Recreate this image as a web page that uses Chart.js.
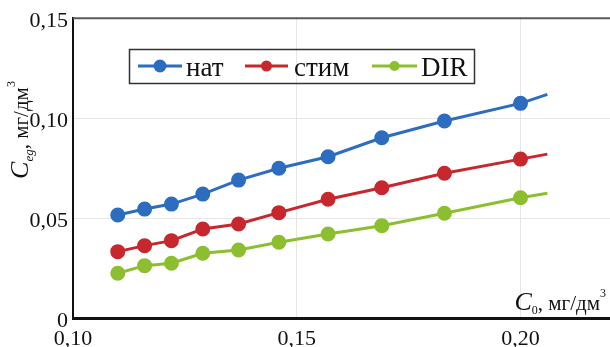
<!DOCTYPE html>
<html>
<head>
<meta charset="utf-8">
<script src="https://cdn.jsdelivr.net/npm/chart.js@4"></script>
<style>
	html, body { margin: 0; padding: 0; background: #fff; }
	#wrap { width: 610px; height: 347px; position: relative; }
</style>
</head>
<body>
<div id="wrap"><canvas id="chart"></canvas></div>
<script>
// 데이터
var c0 = [0.110, 0.116, 0.122, 0.129, 0.137, 0.146, 0.157, 0.169, 0.183, 0.200, 0.206];
var nat = [0.0515, 0.0545, 0.0570, 0.0620, 0.0690, 0.0749, 0.0807, 0.0902, 0.0986, 0.1074, 0.1119];
var stim = [0.0332, 0.0362, 0.0387, 0.0445, 0.0470, 0.0527, 0.0594, 0.0652, 0.0724, 0.0795, 0.0820];
var dir = [0.0224, 0.0262, 0.0274, 0.0324, 0.0340, 0.0379, 0.0420, 0.0462, 0.0524, 0.0602, 0.0624];
var seriesNames = ['нат', 'стим', 'DIR'];

var xTickValues = [0.10, 0.15, 0.20];
var xTickLabels = ['0,10', '0,15', '0,20'];
var yTickValues = [0, 0.05, 0.10, 0.15];
var yTickLabels = ['0', '0,05', '0,10', '0,15'];

var serif = '"Liberation Serif", "DejaVu Serif", serif';
var lastIdx = c0.length - 1;

function toPoints(arr) {
	return arr.map((v, i) => ({ x: c0[i], y: v }));
}

function makeSet(label, arr, color) {
	return {
		label: label,
		data: toPoints(arr),
		borderColor: color,
		backgroundColor: color,
		borderWidth: 3,
		pointBackgroundColor: color,
		pointBorderColor: color,
		// 마지막 점은 선만 이어지고 마커는 없음
		pointRadius: ctx => ctx.dataIndex === lastIdx ? 0 : 6,
		tension: 0,
		fill: false
	};
}

// 범례, 축 제목, 위쪽 테두리
var decorPlugin = {
	id: 'decor',
	afterDraw(chart) {
		var ctx = chart.ctx;
		var area = chart.chartArea;
		ctx.save();

		// 위쪽 테두리
		ctx.strokeStyle = '#5a5a5a';
		ctx.lineWidth = 2;
		ctx.beginPath();
		ctx.moveTo(area.left, area.top);
		ctx.lineTo(area.right, area.top);
		ctx.stroke();

		// 범례 상자
		ctx.strokeStyle = '#333';
		ctx.lineWidth = 1.5;
		ctx.strokeRect(129.5, 49.5, 345, 34);
		var items = [
			{ x0: 138, x1: 182, r: 6.5, tx: 186 },
			{ x0: 245, x1: 288, r: 5.5, tx: 294 },
			{ x0: 372, x1: 417, r: 5, tx: 421 }
		];
		ctx.font = '27px ' + serif;
		ctx.textBaseline = 'alphabetic';
		chart.data.datasets.forEach((ds, i) => {
			var it = items[i];
			var cy = 66;
			ctx.strokeStyle = ds.borderColor;
			ctx.lineWidth = 3;
			ctx.beginPath();
			ctx.moveTo(it.x0, cy);
			ctx.lineTo(it.x1, cy);
			ctx.stroke();
			ctx.fillStyle = ds.borderColor;
			ctx.beginPath();
			ctx.arc((it.x0 + it.x1) / 2, cy, it.r, 0, Math.PI * 2);
			ctx.fill();
			ctx.fillStyle = '#111';
			ctx.fillText(ds.label, it.tx, 76);
		});

		// 축 제목 그리기 (첨자 포함)
		function drawTitle(parts) {
			var x = 0;
			parts.forEach(p => {
				ctx.font = p.font;
				ctx.fillText(p.text, x, p.dy || 0);
				x += ctx.measureText(p.text).width;
			});
			return x;
		}
		function measure(parts) {
			var w = 0;
			parts.forEach(p => {
				ctx.font = p.font;
				w += ctx.measureText(p.text).width;
			});
			return w;
		}
		ctx.fillStyle = '#111';

		// y축 제목
		var yParts = [
			{ text: 'C', font: 'italic 26px ' + serif },
			{ text: 'eg', font: 'italic 13px ' + serif, dy: 5 },
			{ text: ', мг/дм', font: '21px ' + serif },
			{ text: '3', font: '12px ' + serif, dy: -13 }
		];
		var yw = measure(yParts);
		ctx.save();
		ctx.translate(28, 130 + yw / 2);
		ctx.rotate(-Math.PI / 2);
		drawTitle(yParts);
		ctx.restore();

		// x축 제목
		var xParts = [
			{ text: 'C', font: 'italic 26px ' + serif },
			{ text: '0', font: '12px ' + serif, dy: 4 },
			{ text: ', мг/дм', font: '21px ' + serif },
			{ text: '3', font: '12px ' + serif, dy: -13 }
		];
		var xw = measure(xParts);
		ctx.save();
		ctx.translate(606 - xw, 310);
		drawTitle(xParts);
		ctx.restore();

		ctx.restore();
	}
};

var myChart = new Chart(document.getElementById('chart'), {
	type: 'line',
	data: {
		datasets: [
			makeSet(seriesNames[0], nat, '#2c6dc0'),
			makeSet(seriesNames[1], stim, '#c7282d'),
			makeSet(seriesNames[2], dir, '#8cbf2f')
		]
	},
	options: {
		responsive: true,
		maintainAspectRatio: false,
		animation: false,
		layout: {
			autoPadding: false, // 점 크기만큼 여백이 생기는 것 방지
			padding: { top: 18, right: 0, bottom: 0, left: 0 }
		},
		plugins: {
			legend: { display: false },
			tooltip: { enabled: false }
		},
		scales: {
			x: {
				type: 'linear',
				min: 0.10,
				max: 0.22,
				afterBuildTicks: scale => { scale.ticks = xTickValues.map(v => ({ value: v })); },
				afterFit: scale => { scale.height = 29; },
				grid: { color: '#e6e6e6', lineWidth: 1, drawTicks: false },
				border: { color: '#111', width: 3 },
				ticks: {
					padding: 8,
					color: '#111',
					font: { family: serif, size: 22 },
					maxRotation: 0,
					callback: (v, i) => xTickLabels[i]
				}
			},
			y: {
				type: 'linear',
				min: 0,
				max: 0.15,
				afterBuildTicks: scale => { scale.ticks = yTickValues.map(v => ({ value: v })); },
				afterFit: scale => { scale.width = 73; },
				grid: { color: '#e6e6e6', lineWidth: 1, drawTicks: false },
				border: { color: '#111', width: 2 },
				ticks: {
					padding: 5,
					labelOffset: 3,
					color: '#111',
					font: { family: serif, size: 22 },
					callback: (v, i) => yTickLabels[i]
				}
			}
		}
	},
	plugins: [decorPlugin]
});
</script>
</body>
</html>
